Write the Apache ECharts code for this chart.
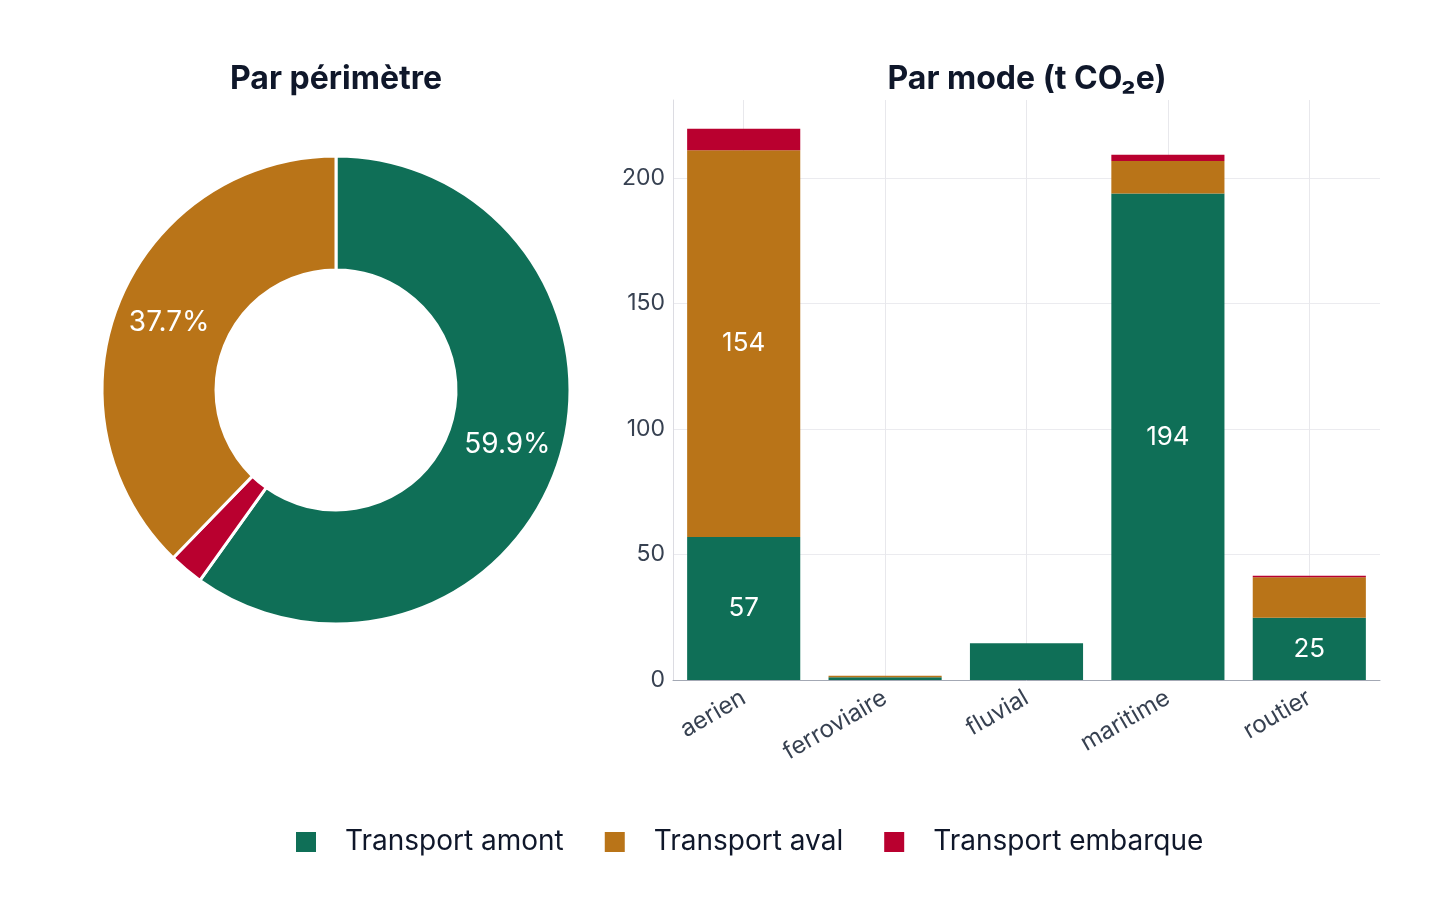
<!DOCTYPE html>
<html>
<head>
<meta charset="utf-8">
<script src="https://cdn.jsdelivr.net/npm/echarts@6/dist/echarts.min.js"></script>
<style>
html,body{margin:0;padding:0;background:#fff;}
#chart{width:1440px;height:920px;}
</style>
</head>
<body>
<div id="chart"></div>
<script>
const categories = ['aerien', 'ferroviaire', 'fluvial', 'maritime', 'routier'];
const seriesNames = ['Transport amont', 'Transport aval', 'Transport embarque'];
const amont = [57.0, 1.1, 14.6, 193.8, 24.8];
const aval = [154.0, 0.6, 0, 12.9, 16.1];
const embarque = [8.5, 0, 0, 2.5, 0.6];
const yTicks = [0, 50, 100, 150, 200];
const pieOrder = [0, 2, 1];
const colors = ['#0f6f57', '#b97418', '#b9002f'];

const sum = a => a.reduce((s, v) => s + v, 0);
const totals = [sum(amont), sum(aval), sum(embarque)];
const grand = sum(totals);

const font = 'Inter, "Noto Sans", sans-serif';
const chart = echarts.init(document.getElementById('chart'));

const barLabel = {
  show: true,
  position: 'inside',
  color: '#fff',
  fontSize: 26,
  fontFamily: font,
  formatter: p => (p.value >= 20 ? Math.round(p.value).toString() : '')
};

chart.setOption({
  animation: false,
  textStyle: { fontFamily: font },
  title: [
    { text: 'Par périmètre', left: 331, top: 58, textAlign: 'center',
      textStyle: { fontSize: 32, fontWeight: 'bold', color: '#0f172a', fontFamily: font } },
    { text: 'Par mode (t CO₂e)', left: 1022, top: 58, textAlign: 'center',
      textStyle: { fontSize: 32, fontWeight: 'bold', color: '#0f172a', fontFamily: font } }
  ],
  legend: {
    data: seriesNames,
    left: 291,
    top: 823,
    icon: 'rect',
    itemWidth: 20,
    itemHeight: 20,
    itemGap: 41,
    textStyle: { fontSize: 28, color: '#0f172a', fontFamily: font, padding: [0, 0, 0, 24] }
  },
  grid: { left: 673, right: 60, top: 100, bottom: 240 },
  xAxis: {
    type: 'category',
    data: categories,
    axisLine: { show: true, lineStyle: { color: '#a3a8b4', width: 1 } },
    axisTick: { show: false, alignWithLabel: true },
    splitLine: { show: true, alignWithLabel: true, lineStyle: { color: '#e8e8ec' } },
    axisLabel: { rotate: 30, fontSize: 24, color: '#374151', margin: 16, fontFamily: font }
  },
  yAxis: {
    type: 'value',
    min: 0,
    max: 231,
    interval: 50,
    axisLine: { show: true, lineStyle: { color: '#dcdce2' } },
    axisTick: { show: false },
    splitLine: { show: true, showMaxLine: false, lineStyle: { color: '#ebebef' } },
    axisLabel: {
      fontSize: 23, color: '#374151', margin: 8, fontFamily: font, showMaxLabel: false,
      formatter: v => (yTicks.indexOf(v) >= 0 ? String(v) : '')
    }
  },
  series: [
    {
      type: 'pie',
      center: [336, 390],
      radius: [120, 234],
      startAngle: 90,
      clockwise: true,
      avoidLabelOverlap: false,
      legendHoverLink: false,
      itemStyle: { borderColor: '#fff', borderWidth: 3 },
      label: {
        show: true,
        position: 'inside',
        color: '#fff',
        fontSize: 28,
        fontFamily: font,
        formatter: p => {
          const pct = p.value / grand * 100;
          return pct >= 5 ? pct.toFixed(1) + '%' : '';
        }
      },
      labelLine: { show: false },
      data: pieOrder.map(i => ({ name: seriesNames[i], value: totals[i], itemStyle: { color: colors[i] } }))
    },
    { name: seriesNames[0], type: 'bar', stack: 'mode', barWidth: '80%', data: amont,
      itemStyle: { color: colors[0] }, label: barLabel },
    { name: seriesNames[1], type: 'bar', stack: 'mode', barWidth: '80%', data: aval,
      itemStyle: { color: colors[1] }, label: barLabel },
    { name: seriesNames[2], type: 'bar', stack: 'mode', barWidth: '80%', data: embarque,
      itemStyle: { color: colors[2] }, label: barLabel }
  ]
});
</script>
</body>
</html>
